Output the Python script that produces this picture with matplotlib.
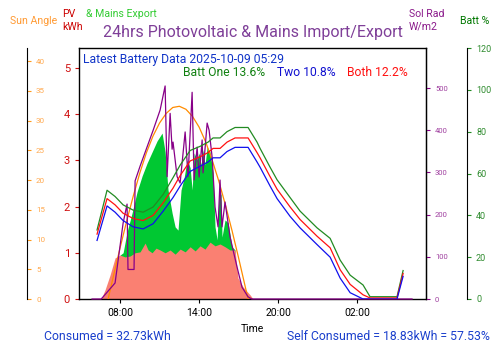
import matplotlib
matplotlib.use("Agg")
import matplotlib.pyplot as plt

plt.rcParams['font.family'] = ['Roboto', 'DejaVu Sans']

# ---- data (hours from midnight of day 1) ----
pv_t = [6.56, 6.86, 7.24, 7.62, 8.0, 8.38, 8.76, 9.14, 9.52, 9.90, 10.13, 10.43, 10.73,
        11.04, 11.42, 11.80, 12.18, 12.56, 12.94, 13.32, 13.70, 14.07, 14.45, 14.83,
        15.21, 15.59, 15.97, 16.35, 16.73, 16.96, 17.34, 17.87, 18.10]
pv_kwh = [0, 0.2, 0.52, 0.89, 0.95, 0.91, 0.93, 1.0, 1.02, 1.21, 1.06, 1.0, 1.1,
          1.06, 1.0, 1.06, 0.97, 1.08, 1.02, 1.13, 1.04, 1.15, 1.08, 1.23,
          1.15, 1.19, 1.13, 1.06, 1.06, 0.45, 0.26, 0.09, 0]

exp_t = [8.0, 8.23, 8.53, 8.91, 9.29, 9.67, 10.05, 10.43, 10.81, 11.19, 11.42, 11.64,
         11.95, 12.18, 12.40, 12.63, 12.86, 13.09, 13.32, 13.47, 13.62, 13.85, 14.0,
         14.15, 14.30, 14.45, 14.61, 14.83, 15.06, 15.21, 15.37, 15.52, 15.67, 15.74,
         15.97, 16.20, 16.50, 16.73]
exp_kwh = [0.95, 1.0, 1.45, 1.86, 2.32, 2.66, 2.94, 3.18, 3.42, 3.59, 3.18, 2.36,
           1.86, 1.56, 1.49, 2.36, 2.62, 3.01, 2.84, 2.36, 3.16, 3.01, 3.16,
           2.9, 3.23, 2.9, 3.29, 3.18, 2.73, 1.56, 1.28, 2.36, 2.25, 1.34,
           1.71, 1.65, 1.13, 1.06]

sun_t = [7.09, 7.5, 8.0, 8.5, 9.0, 9.5, 10.0, 10.5, 11.0, 11.5, 12.0, 12.5, 13.0,
         13.5, 14.0, 14.5, 15.0, 15.5, 16.0, 16.5, 17.0, 17.5, 17.72]
sun_deg = [0, 3.9, 8.6, 13.1, 17.3, 21.2, 24.6, 27.4, 29.6, 31.2, 32.2, 32.4, 31.9,
           30.7, 28.9, 26.4, 23.3, 19.8, 15.8, 11.5, 6.9, 2.1, 0]

rad_t = [5.87, 6.56, 6.71, 7.62, 8.23, 8.53, 8.60, 9.06, 9.14, 9.52, 10.51, 11.04,
         11.42, 11.57, 11.80, 11.95, 12.02, 12.33, 12.56, 12.94, 13.16, 13.47, 13.62,
         13.85, 14.0, 14.23, 14.30, 14.61, 14.76, 14.99, 15.21, 15.44, 15.59, 15.74,
         15.97, 16.20, 16.35, 16.88, 17.26, 17.72, 18.0, 30.17]
rad_wm2 = [0, 0, 5, 38, 180, 225, 70, 70, 280, 315, 400, 448,
           505, 290, 440, 355, 372, 290, 275, 396, 290, 490, 282,
           360, 289, 377, 299, 417, 400, 336, 218, 171, 282, 171,
           230, 180, 147, 76, 28, 5, 0, 0]

batt_t = [6.25, 7.01, 7.62, 8.23, 8.99, 9.75, 10.51, 11.27, 12.02, 12.56, 13.32, 14.08,
          14.68, 15.06, 15.59, 16.12, 16.73, 17.72, 18.40, 18.63, 19.39, 19.92, 20.91,
          21.67, 22.96, 23.95, 24.71, 25.47, 26.45, 26.98, 29.03, 29.49]
batt_one = [33, 52, 49, 45, 42.5, 41.5, 44, 50, 58, 64, 71, 73,
            75, 77, 77, 80, 82, 82, 75, 72, 63, 57, 48.5,
            42, 34, 29, 18.6, 11.4, 6.7, 1.1, 1.1, 13.6]
batt_both = [31, 48, 45, 41, 38.5, 37.5, 40, 46, 53, 59, 66, 68,
             70, 72, 72, 75, 77, 77, 70, 67.5, 58.5, 52.5, 44,
             38, 30, 24.5, 14, 7, 2, 0.5, 0.5, 12.2]
batt_two = [28, 44.5, 41.5, 37.5, 34.5, 33.5, 36, 42, 48.5, 54, 61, 63.5,
            65.5, 67.5, 67.5, 70.5, 72.5, 72.5, 65.5, 63, 54, 48, 39.5,
            34, 26, 20, 10, 3, 0, 0, 0, 10.8]

xtick_pos = [8, 14, 20, 26]
xtick_lab = ["08:00", "14:00", "20:00", "02:00"]

# ---- figure ----
fig = plt.figure(figsize=(5.0, 3.53), dpi=100)
L, R, B, T = 79/500, 426/500, 1-299/353, 1-48/353
ax = fig.add_axes([L, B, R-L, T-B])
W = (426-79)

ax.fill_between(exp_t, exp_kwh, 0, color='#00c832', lw=0)
ax.fill_between(pv_t, pv_kwh, 0, color='#fa8072', lw=0)
ax.set_xlim(4.88, 31.23)
ax.set_ylim(0, 5.43)
ax.set_yticks([0, 1, 2, 3, 4, 5])
ax.tick_params(axis='y', colors='#d01010', labelsize=8, length=3, width=0.8)
ax.tick_params(axis='x', labelsize=7.5, length=3, width=0.8)
ax.set_xticks(xtick_pos)
ax.set_xticklabels(xtick_lab)
ax.set_xlabel("Time", fontsize=7.5, labelpad=4)
for s in ax.spines.values():
    s.set_linewidth(1.0)

# sun angle axis
ax_sun = ax.twinx()
ax_sun.spines['right'].set_position(('axes', (27-79)/W))
for k in ['top', 'left', 'bottom']:
    ax_sun.spines[k].set_visible(False)
ax_sun.plot(sun_t, sun_deg, color='#ff8c00', lw=0.9)
ax_sun.set_ylim(0, 42.2)
ax_sun.set_yticks([0, 5, 10, 15, 20, 25, 30, 35, 40])
ax_sun.tick_params(axis='y', colors='#ff9a1a', labelsize=5.8, length=3, width=0.8)
for lab in ax_sun.get_yticklabels():
    lab.set_color('#ffa84d')

# solar radiation axis
ax_rad = ax.twinx()
for k in ['top', 'left', 'bottom']:
    ax_rad.spines[k].set_visible(False)
ax_rad.plot(rad_t, rad_wm2, color='#880088', lw=0.9, clip_on=False)
ax_rad.set_ylim(0, 595)
ax_rad.set_yticks([0, 100, 200, 300, 400, 500])
ax_rad.tick_params(axis='y', colors='#880088', labelsize=5.5, length=3, width=0.8)
for lab in ax_rad.get_yticklabels():
    lab.set_color('#a040a0')

# battery axis
ax_bat = ax.twinx()
ax_bat.spines['right'].set_position(('axes', (467-79)/W))
for k in ['top', 'left', 'bottom']:
    ax_bat.spines[k].set_visible(False)
ax_bat.plot(batt_t, batt_one, color='#228b22', lw=0.9)
ax_bat.plot(batt_t, batt_both, color='#ff1010', lw=0.9)
ax_bat.plot(batt_t, batt_two, color='#1010ee', lw=0.9)
ax_bat.set_ylim(0, 120)
ax_bat.set_yticks([0, 20, 40, 60, 80, 100, 120])
ax_bat.tick_params(axis='y', colors='#228b22', labelsize=6.5, length=3, width=0.8)
for lab in ax_bat.get_yticklabels():
    lab.set_color('#2e8b2e')

# ---- texts ----
def ftext(x, y, s, **kw):
    fig.text(x/500, 1-y/353, s, **kw)

ftext(253, 33, "24hrs Photovoltaic & Mains Import/Export", color='#7f3f98',
      fontsize=11.5, ha='center', va='center')
ftext(10, 21, "Sun Angle", color='#ff9a33', fontsize=7.6, ha='left', va='center')
ftext(62, 14, "PV", color='#cc0000', fontsize=7.6, ha='left', va='center')
ftext(62, 27, "kWh", color='#cc0000', fontsize=7.6, ha='left', va='center')
ftext(86, 14, "& Mains Export", color='#33cc33', fontsize=7.6, ha='left', va='center')
ftext(409, 14, "Sol Rad", color='#8b1a8b', fontsize=7.6, ha='left', va='center')
ftext(409, 27, "W/m2", color='#8b1a8b', fontsize=7.6, ha='left', va='center')
ftext(460, 21, "Batt %", color='#007700', fontsize=7.6, ha='left', va='center')

ftext(83, 60, "Latest Battery Data 2025-10-09 05:29", color='#1034c8', fontsize=8.7,
      ha='left', va='center')
ftext(183, 72, "Batt One 13.6%", color='#108010', fontsize=8.7, ha='left', va='center')
ftext(277, 72, "Two 10.8%", color='#1010d0', fontsize=8.7, ha='left', va='center')
ftext(347, 72, "Both 12.2%", color='#ff1010', fontsize=8.7, ha='left', va='center')

ftext(44, 336, "Consumed = 32.73kWh", color='#1a3fcc', fontsize=8.8, ha='left', va='center')
ftext(490, 336, "Self Consumed = 18.83kWh = 57.53%", color='#1a3fcc', fontsize=8.8,
      ha='right', va='center')

fig.savefig("out.png", dpi=100)
